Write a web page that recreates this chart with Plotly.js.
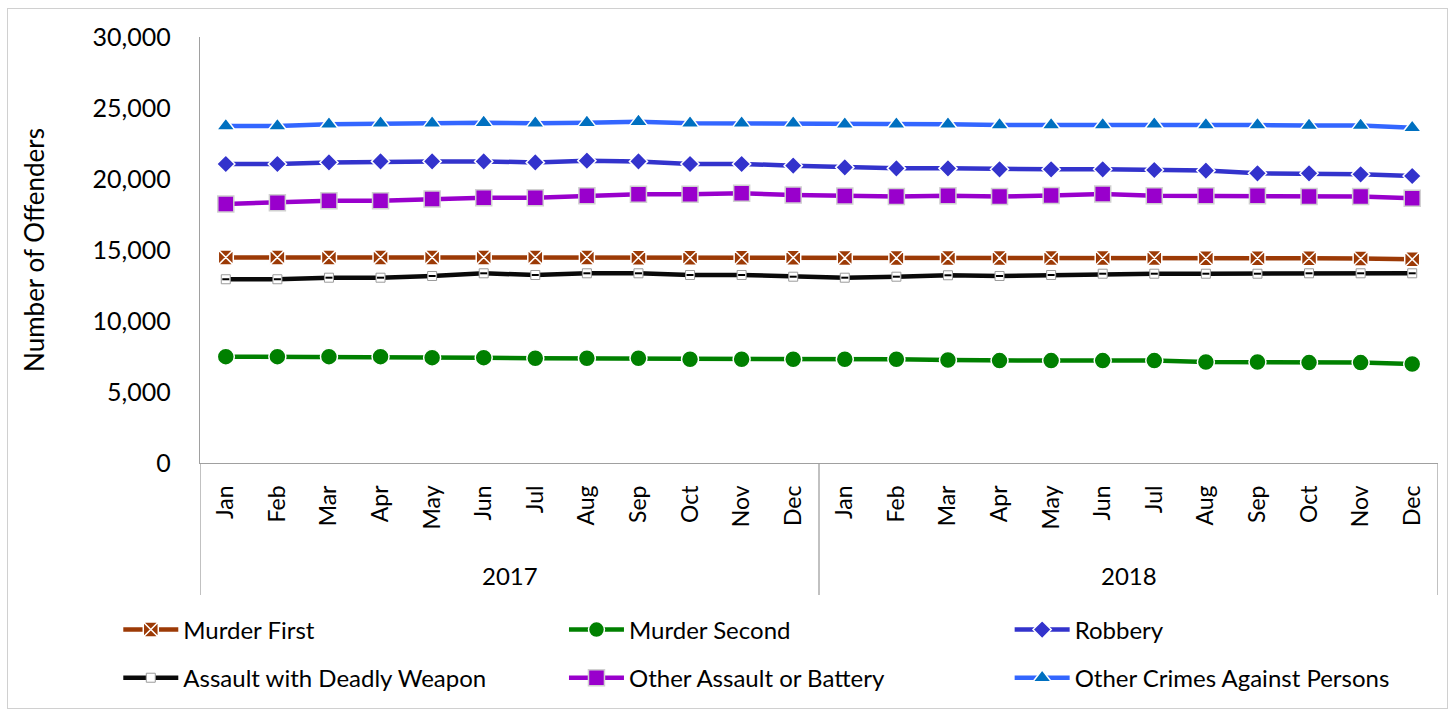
<!DOCTYPE html>
<html>
<head>
<meta charset="utf-8">
<script src="https://cdn.plot.ly/plotly-3.0.1.min.js"></script>
<style>
  html, body { margin: 0; padding: 0; background: #fff; }
  #wrap { position: relative; width: 1450px; height: 714px; }
  #chart { position: absolute; left: 0; top: 0; width: 1450px; height: 714px; }
  #frame { position: absolute; left: 7px; top: 8px; width: 1439px; height: 699px; border: 1px solid #d0d0d0; pointer-events: none; }
</style>
</head>
<body>
<div id="wrap"><div id="chart"></div><div id="frame"></div></div>
<script>
// ---- data ----
const months = ['Jan','Feb','Mar','Apr','May','Jun','Jul','Aug','Sep','Oct','Nov','Dec',
                'Jan','Feb','Mar','Apr','May','Jun','Jul','Aug','Sep','Oct','Nov','Dec'];
const years = ['2017', '2018'];

const murderFirst  = [14480,14480,14480,14480,14480,14480,14480,14480,14460,14460,14460,14460,
                      14440,14440,14440,14440,14430,14430,14430,14420,14420,14420,14400,14350];
const murderSecond = [7490,7490,7490,7490,7420,7420,7370,7370,7370,7300,7300,7300,
                      7300,7300,7250,7210,7210,7210,7210,7110,7110,7070,7070,6970];
const robbery      = [21060,21060,21170,21240,21240,21240,21170,21290,21240,21060,21060,20940,
                      20820,20750,20750,20680,20680,20680,20630,20590,20400,20400,20330,20210];
const assaultDW    = [12940,12940,13050,13050,13170,13360,13240,13360,13360,13240,13240,13120,
                      13050,13120,13220,13170,13240,13330,13330,13330,13330,13360,13360,13360];
const otherAssault = [18240,18330,18470,18470,18590,18680,18680,18820,18920,18920,18990,18870,
                      18800,18760,18820,18760,18840,18940,18820,18820,18820,18760,18760,18640];
const otherCrimes  = [23730,23730,23850,23920,23920,23970,23920,23970,24040,23920,23920,23920,
                      23850,23850,23850,23800,23800,23800,23850,23800,23800,23760,23760,23610];

const seriesNames = ['Murder First','Murder Second','Robbery',
                     'Assault with Deadly Weapon','Other Assault or Battery','Other Crimes Against Persons'];

// ---- build ----
const xIdx = months.map((m, i) => i);
const FONT = 'Lato, "Open Sans", sans-serif';
const legendIds = ['legend','legend2','legend3','legend4','legend5','legend6'];

function tr(i, y, lineColor, marker) {
  return {
    type: 'scatter', mode: 'lines+markers', name: seriesNames[i], x: xIdx, y: y,
    line: { color: lineColor, width: 4.5 }, marker: marker, legend: legendIds[i],
    hoverinfo: 'name+y'
  };
}

const traces = [
  tr(0, murderFirst, '#9C3A06',
     { symbol: 'square-x', size: 15, color: '#9C3A06', line: { color: '#ffffff', width: 1.5 } }),
  tr(1, murderSecond, '#008000',
     { symbol: 'circle', size: 17, color: '#008000', line: { color: '#ffffff', width: 1.5 } }),
  tr(2, robbery, '#3333CC',
     { symbol: 'diamond', size: 14, color: '#3333CC', line: { color: '#ffffff', width: 1.5 } }),
  tr(3, assaultDW, '#0a0a0a',
     { symbol: 'square', size: 9, color: '#ffffff', line: { color: '#9a9a9a', width: 1 } }),
  tr(4, otherAssault, '#9900CC',
     { symbol: 'square', size: 16, color: '#9900CC', line: { color: '#d0d0d0', width: 1.5 } }),
  tr(5, otherCrimes, '#3366FF',
     { symbol: 'triangle-up', size: 16, color: '#0070C0', line: { color: '#ffffff', width: 1.5 } }),
  // small dash inside the Assault with Deadly Weapon markers
  { type: 'scatter', mode: 'markers', x: xIdx, y: assaultDW, showlegend: false, hoverinfo: 'skip',
    marker: { symbol: 'line-ew', size: 5, line: { color: '#000000', width: 2 } } }
];

const axisGray = '#a0a0a0';
const divX = [-0.5, 11.5, 23.5];

// legend placement (paper coords relative to plot area)
const legX = [-0.066, 0.294, 0.654];
const legY = [-0.392, -0.505];

const layout = {
  width: 1450, height: 714,
  margin: { l: 200, r: 12, t: 37, b: 251 },
  paper_bgcolor: '#ffffff', plot_bgcolor: '#ffffff',
  font: { family: FONT, color: '#000000', size: 22 },
  showlegend: true,
  xaxis: {
    range: [-0.5, 23.5], tickmode: 'array', tickvals: xIdx, ticktext: months,
    tickangle: -90, showgrid: false, zeroline: false,
    showline: true, linecolor: axisGray, linewidth: 1.3,
    ticks: '', ticklabelstandoff: 12,
    tickfont: { family: FONT, size: 23, color: '#000' }
  },
  yaxis: {
    range: [0, 30000], dtick: 5000, tickformat: ',d', showgrid: false, zeroline: false,
    showline: true, linecolor: axisGray, linewidth: 1.3, ticks: '',
    ticklabelstandoff: 23,
    tickfont: { family: FONT, size: 25, color: '#000' },
    title: { text: 'Number of Offenders', font: { family: FONT, size: 26, color: '#000' }, standoff: 40 }
  },
  shapes: divX.map(v => ({
    type: 'line', xref: 'x', yref: 'paper', x0: v, x1: v, y0: 0, y1: -0.31,
    line: { color: axisGray, width: 1.3 }
  })),
  annotations: years.map((yr, i) => ({
    text: yr, xref: 'x', yref: 'paper', x: 5.5 + 12 * i, y: -0.263,
    showarrow: false, xanchor: 'center', yanchor: 'middle',
    font: { family: FONT, size: 24, color: '#000' }
  }))
};

legendIds.forEach((id, i) => {
  layout[id] = {
    orientation: 'v', x: legX[i % 3], xanchor: 'left', y: legY[Math.floor(i / 3)], yanchor: 'middle',
    itemwidth: 55, font: { family: FONT, size: 24, color: '#000' }, bgcolor: 'rgba(0,0,0,0)'
  };
});

Plotly.newPlot('chart', traces, layout, { displayModeBar: false, staticPlot: true });
</script>
</body>
</html>
